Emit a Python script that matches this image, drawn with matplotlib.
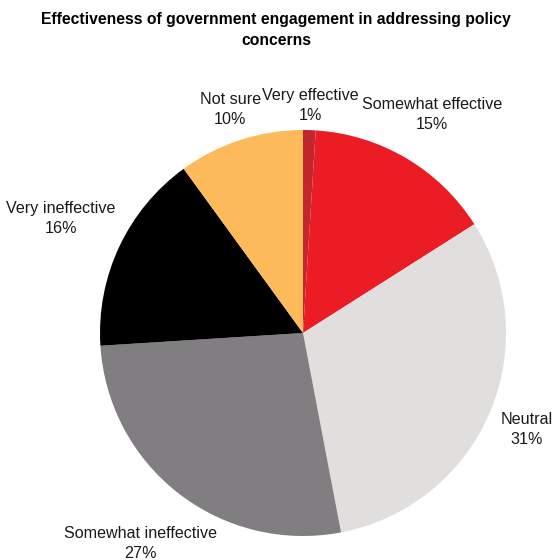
import matplotlib
matplotlib.use("Agg")
import matplotlib.pyplot as plt
import numpy as np

categories = ["Very effective", "Somewhat effective", "Neutral",
              "Somewhat ineffective", "Very ineffective", "Not sure"]
values = [1, 15, 31, 27, 16, 10]
colors = ["#c4262e", "#ec1c24", "#e0dfde", "#807e80", "#000000", "#fdba5a"]
label_dist = [1.12, 1.25, 1.20, 1.31, 1.32, 1.16]

plt.rcParams['font.family'] = ['Liberation Sans', 'DejaVu Sans']

fig = plt.figure(figsize=(5.52, 5.60), dpi=100)
R = 203
cx, cy = 303, 560 - 333
ax = fig.add_axes([(cx - R) / 552, (cy - R) / 560, 2 * R / 552, 2 * R / 560])
wedges, _ = ax.pie(values, colors=colors, startangle=90, counterclock=False,
                   radius=1.0, wedgeprops=dict(linewidth=0))
ax.set_xlim(-1, 1)
ax.set_ylim(-1, 1)
ax.axis('off')

for w, cat, v, d in zip(wedges, categories, values, label_dist):
    ang = np.deg2rad((w.theta1 + w.theta2) / 2)
    x, y = d * np.cos(ang), d * np.sin(ang)
    ax.text(x, y, f"{cat}\n{v}%", ha='center', va='center', fontsize=11.6,
            color='#1a1a1a', linespacing=1.42)

fig.text(0.5, 1 - 30 / 560, "Effectiveness of government engagement in addressing policy\nconcerns",
         ha='center', va='center', fontsize=11.3, fontweight='bold', linespacing=1.55)

fig.savefig("out.png", dpi=100)
